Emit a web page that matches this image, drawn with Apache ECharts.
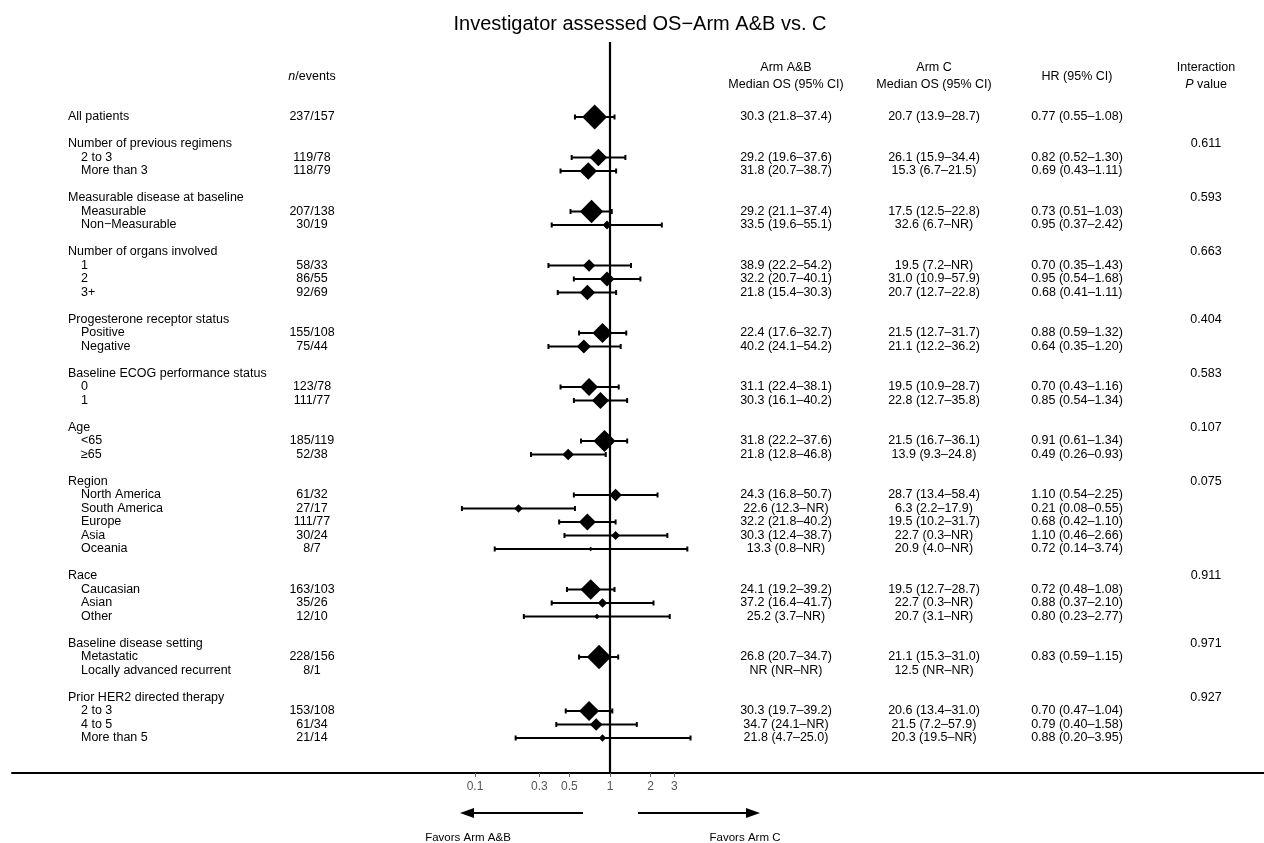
<!DOCTYPE html>
<html>
<head>
<meta charset="utf-8">
<script src="https://cdn.jsdelivr.net/npm/echarts@6/dist/echarts.min.js"></script>
<style>html,body{margin:0;padding:0;background:#fff}#c{width:1264px;height:843px}</style>
</head>
<body>
<div id="c"></div>
<script>
// ---------------- DATA ----------------
const labels = [
  "All patients",
  "Number of previous regimens", "2 to 3", "More than 3",
  "Measurable disease at baseline", "Measurable", "Non\u2212Measurable",
  "Number of organs involved", "1", "2", "3+",
  "Progesterone receptor status", "Positive", "Negative",
  "Baseline ECOG performance status", "0", "1",
  "Age", "<65", "\u226565",
  "Region", "North America", "South America", "Europe", "Asia", "Oceania",
  "Race", "Caucasian", "Asian", "Other",
  "Baseline disease setting", "Metastatic", "Locally advanced recurrent",
  "Prior HER2 directed therapy", "2 to 3", "4 to 5", "More than 5"
];
const levels = [
  0,
  0, 1, 1,
  0, 1, 1,
  0, 1, 1, 1,
  0, 1, 1,
  0, 1, 1,
  0, 1, 1,
  0, 1, 1, 1, 1, 1,
  0, 1, 1, 1,
  0, 1, 1,
  0, 1, 1, 1
];
const nEvents = [
  "237/157",
  "", "119/78", "118/79",
  "", "207/138", "30/19",
  "", "58/33", "86/55", "92/69",
  "", "155/108", "75/44",
  "", "123/78", "111/77",
  "", "185/119", "52/38",
  "", "61/32", "27/17", "111/77", "30/24", "8/7",
  "", "163/103", "35/26", "12/10",
  "", "228/156", "8/1",
  "", "153/108", "61/34", "21/14"
];
const medianAB = [
  "30.3 (21.8\u201337.4)",
  "", "29.2 (19.6\u201337.6)", "31.8 (20.7\u201338.7)",
  "", "29.2 (21.1\u201337.4)", "33.5 (19.6\u201355.1)",
  "", "38.9 (22.2\u201354.2)", "32.2 (20.7\u201340.1)", "21.8 (15.4\u201330.3)",
  "", "22.4 (17.6\u201332.7)", "40.2 (24.1\u201354.2)",
  "", "31.1 (22.4\u201338.1)", "30.3 (16.1\u201340.2)",
  "", "31.8 (22.2\u201337.6)", "21.8 (12.8\u201346.8)",
  "", "24.3 (16.8\u201350.7)", "22.6 (12.3\u2013NR)", "32.2 (21.8\u201340.2)", "30.3 (12.4\u201338.7)", "13.3 (0.8\u2013NR)",
  "", "24.1 (19.2\u201339.2)", "37.2 (16.4\u201341.7)", "25.2 (3.7\u2013NR)",
  "", "26.8 (20.7\u201334.7)", "NR (NR\u2013NR)",
  "", "30.3 (19.7\u201339.2)", "34.7 (24.1\u2013NR)", "21.8 (4.7\u201325.0)"
];
const medianC = [
  "20.7 (13.9\u201328.7)",
  "", "26.1 (15.9\u201334.4)", "15.3 (6.7\u201321.5)",
  "", "17.5 (12.5\u201322.8)", "32.6 (6.7\u2013NR)",
  "", "19.5 (7.2\u2013NR)", "31.0 (10.9\u201357.9)", "20.7 (12.7\u201322.8)",
  "", "21.5 (12.7\u201331.7)", "21.1 (12.2\u201336.2)",
  "", "19.5 (10.9\u201328.7)", "22.8 (12.7\u201335.8)",
  "", "21.5 (16.7\u201336.1)", "13.9 (9.3\u201324.8)",
  "", "28.7 (13.4\u201358.4)", "6.3 (2.2\u201317.9)", "19.5 (10.2\u201331.7)", "22.7 (0.3\u2013NR)", "20.9 (4.0\u2013NR)",
  "", "19.5 (12.7\u201328.7)", "22.7 (0.3\u2013NR)", "20.7 (3.1\u2013NR)",
  "", "21.1 (15.3\u201331.0)", "12.5 (NR\u2013NR)",
  "", "20.6 (13.4\u201331.0)", "21.5 (7.2\u201357.9)", "20.3 (19.5\u2013NR)"
];
const hrLabels = [
  "0.77 (0.55\u20131.08)",
  "", "0.82 (0.52\u20131.30)", "0.69 (0.43\u20131.11)",
  "", "0.73 (0.51\u20131.03)", "0.95 (0.37\u20132.42)",
  "", "0.70 (0.35\u20131.43)", "0.95 (0.54\u20131.68)", "0.68 (0.41\u20131.11)",
  "", "0.88 (0.59\u20131.32)", "0.64 (0.35\u20131.20)",
  "", "0.70 (0.43\u20131.16)", "0.85 (0.54\u20131.34)",
  "", "0.91 (0.61\u20131.34)", "0.49 (0.26\u20130.93)",
  "", "1.10 (0.54\u20132.25)", "0.21 (0.08\u20130.55)", "0.68 (0.42\u20131.10)", "1.10 (0.46\u20132.66)", "0.72 (0.14\u20133.74)",
  "", "0.72 (0.48\u20131.08)", "0.88 (0.37\u20132.10)", "0.80 (0.23\u20132.77)",
  "", "0.83 (0.59\u20131.15)", "",
  "", "0.70 (0.47\u20131.04)", "0.79 (0.40\u20131.58)", "0.88 (0.20\u20133.95)"
];
const hrPoint = [
  0.77,
  null, 0.82, 0.69,
  null, 0.73, 0.95,
  null, 0.70, 0.95, 0.68,
  null, 0.88, 0.64,
  null, 0.70, 0.85,
  null, 0.91, 0.49,
  null, 1.10, 0.21, 0.68, 1.10, 0.72,
  null, 0.72, 0.88, 0.80,
  null, 0.83, null,
  null, 0.70, 0.79, 0.88
];
const hrLower = [
  0.55,
  null, 0.52, 0.43,
  null, 0.51, 0.37,
  null, 0.35, 0.54, 0.41,
  null, 0.59, 0.35,
  null, 0.43, 0.54,
  null, 0.61, 0.26,
  null, 0.54, 0.08, 0.42, 0.46, 0.14,
  null, 0.48, 0.37, 0.23,
  null, 0.59, null,
  null, 0.47, 0.40, 0.20
];
const hrUpper = [
  1.08,
  null, 1.30, 1.11,
  null, 1.03, 2.42,
  null, 1.43, 1.68, 1.11,
  null, 1.32, 1.20,
  null, 1.16, 1.34,
  null, 1.34, 0.93,
  null, 2.25, 0.55, 1.10, 2.66, 3.74,
  null, 1.08, 2.10, 2.77,
  null, 1.15, null,
  null, 1.04, 1.58, 3.95
];
const pValues = [
  "",
  "0.611", "", "",
  "0.593", "", "",
  "0.663", "", "", "",
  "0.404", "", "",
  "0.583", "", "",
  "0.107", "", "",
  "0.075", "", "", "", "", "",
  "0.911", "", "", "",
  "0.971", "", "",
  "0.927", "", "", ""
];
const xTicks = [0.1, 0.3, 0.5, 1, 2, 3];

// ---------------- LAYOUT ----------------
const FONT = '"Liberation Sans", Arial, Helvetica, sans-serif';
const FS = 12.5;
const W = 1264, H = 843;
const X_ONE = 610, PX_PER_DECADE = 135;
const GRID_LEFT = 12, GRID_TOP = 42, AXIS_Y = 773;
const ROW0_Y = 117, ROW_H = 13.5;
const COL = { label: 68, indent: 81, n: 312, ab: 786, c: 934, hr: 1077, p: 1206 };

const xMin = Math.pow(10, (GRID_LEFT - X_ONE) / PX_PER_DECADE);
const xMax = Math.pow(10, (W - X_ONE) / PX_PER_DECADE);
const yMin = (GRID_TOP - ROW0_Y) / ROW_H;
const yMax = (AXIS_Y - ROW0_Y) / ROW_H;

// row index: blank row before each new heading group
const rowIndex = [];
let r = -1;
levels.forEach((lv, i) => { r += (lv === 0 && i > 0) ? 2 : 1; rowIndex.push(r); });

const textData = labels.map((_, i) => [1, rowIndex[i], i]);
const ciData = [], ptData = [];
labels.forEach((_, i) => {
  if (hrPoint[i] != null) {
    ciData.push([hrLower[i], hrUpper[i], rowIndex[i]]);
    ptData.push([hrPoint[i], rowIndex[i], parseInt(nEvents[i].split('/')[0], 10)]);
  }
});

const chart = echarts.init(document.getElementById('c'), null, { renderer: 'canvas' });

function txt(text, x, y, align, size, extra) {
  return {
    type: 'text', x: x, y: y, silent: true,
    style: Object.assign({ text: text, fill: '#000', fontSize: size || FS, fontFamily: FONT,
      align: align || 'center', verticalAlign: 'middle' }, extra || {})
  };
}
const italic = { i: { fontStyle: 'italic', fontSize: FS, fontFamily: FONT, fill: '#000' } };

const ARROW_Y = 813;
const graphics = [
  txt('Investigator assessed OS\u2212Arm A&B vs. C', 640, 24, 'center', 20),
  txt('{i|n}/events', COL.n, 77, 'center', FS, { rich: italic }),
  txt('Arm A&B', COL.ab, 68, 'center', FS),
  txt('Median OS (95% CI)', COL.ab, 85, 'center', FS),
  txt('Arm C', COL.c, 68, 'center', FS),
  txt('Median OS (95% CI)', COL.c, 85, 'center', FS),
  txt('HR (95% CI)', COL.hr, 77, 'center', FS),
  txt('Interaction', COL.p, 68, 'center', FS),
  txt('{i|P} value', COL.p, 85, 'center', FS, { rich: italic }),
  // arrows
  { type: 'line', silent: true, shape: { x1: 583, y1: ARROW_Y, x2: 470, y2: ARROW_Y }, style: { stroke: '#000', lineWidth: 2 } },
  { type: 'polygon', silent: true, shape: { points: [[460, ARROW_Y], [474, ARROW_Y - 5], [474, ARROW_Y + 5]] }, style: { fill: '#000' } },
  { type: 'line', silent: true, shape: { x1: 638, y1: ARROW_Y, x2: 750, y2: ARROW_Y }, style: { stroke: '#000', lineWidth: 2 } },
  { type: 'polygon', silent: true, shape: { points: [[760, ARROW_Y], [746, ARROW_Y - 5], [746, ARROW_Y + 5]] }, style: { fill: '#000' } },
  txt('Favors Arm A&B', 468, 838, 'center', 11.5),
  txt('Favors Arm C', 745, 838, 'center', 11.5)
];

const option = {
  animation: false,
  backgroundColor: '#fff',
  grid: { left: GRID_LEFT, right: 0, top: GRID_TOP, bottom: H - AXIS_Y, containLabel: false },
  xAxis: [{
    type: 'log', logBase: 10, min: xMin, max: xMax, position: 'bottom',
    axisLine: { show: true, onZero: false, lineStyle: { color: '#000', width: 2 } },
    axisTick: { show: true, customValues: xTicks, length: 4, lineStyle: { color: '#666', width: 1 } },
    axisLabel: { show: true, customValues: xTicks, color: '#555', fontSize: 12, fontFamily: FONT, margin: 8,
      formatter: v => String(+(+v).toPrecision(2)) },
    splitLine: { show: false }, minorTick: { show: false }, minorSplitLine: { show: false }
  }],
  yAxis: [{
    type: 'value', inverse: true, min: yMin, max: yMax, show: false,
    splitLine: { show: false }
  }],
  graphic: graphics,
  series: [
    {
      name: 'ci', type: 'custom', silent: true, z: 3,
      data: ciData, encode: { x: [0, 1], y: 2 },
      renderItem: function (params, api) {
        const row = api.value(2);
        const a = api.coord([api.value(0), row]);
        const b = api.coord([api.value(1), row]);
        const cap = 2.5;
        const st = { stroke: '#000', lineWidth: 2 };
        return { type: 'group', children: [
          { type: 'line', shape: { x1: a[0], y1: a[1], x2: b[0], y2: b[1] }, style: st },
          { type: 'line', shape: { x1: a[0], y1: a[1] - cap, x2: a[0], y2: a[1] + cap }, style: st },
          { type: 'line', shape: { x1: b[0], y1: b[1] - cap, x2: b[0], y2: b[1] + cap }, style: st }
        ] };
      }
    },
    {
      name: 'hr', type: 'scatter', silent: true, z: 4,
      symbol: 'diamond',
      symbolSize: d => 1.62 * Math.sqrt(d[2]),
      itemStyle: { color: '#000', opacity: 1 },
      data: ptData,
      markLine: {
        silent: true, symbol: ['none', 'none'], animation: false,
        lineStyle: { color: '#000', width: 2.2, type: 'solid' },
        label: { show: false },
        data: [{ xAxis: 1 }]
      }
    },
    {
      name: 'text', type: 'custom', silent: true, z: 5,
      data: textData, encode: { x: 0, y: 1 },
      renderItem: function (params, api) {
        const i = api.value(2);
        const y = api.coord([1, api.value(1)])[1];
        const mk = (t, x, al) => ({ type: 'text', x: x, y: y,
          style: { text: t, fill: '#000', fontSize: FS, fontFamily: FONT, align: al, verticalAlign: 'middle' } });
        return { type: 'group', children: [
          mk(labels[i], levels[i] === 0 ? COL.label : COL.indent, 'left'),
          mk(nEvents[i], COL.n, 'center'),
          mk(medianAB[i], COL.ab, 'center'),
          mk(medianC[i], COL.c, 'center'),
          mk(hrLabels[i], COL.hr, 'center'),
          mk(pValues[i], COL.p, 'center')
        ] };
      }
    }
  ]
};
chart.setOption(option);
</script>
</body>
</html>
